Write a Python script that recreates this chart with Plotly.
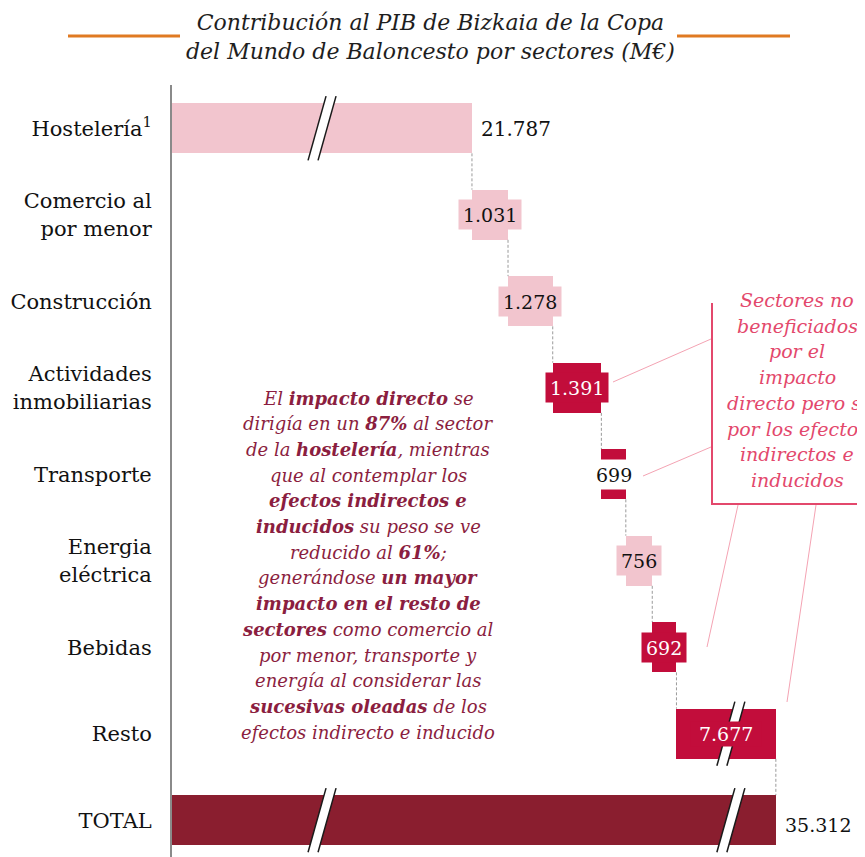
import plotly.graph_objects as go

# ---------------- data ----------------
sectors = ["Hostelería<sup>1</sup>", "Comercio al<br>por menor", "Construcción",
           "Actividades<br>inmobiliarias", "Transporte", "Energia<br>eléctrica",
           "Bebidas", "Resto"]
sector_values = [21787, 1031, 1278, 1391, 699, 756, 692, 7677]
total_label = "TOTAL"
total_value = 35312
# sectors not benefited by the direct impact (only indirect / induced effects)
indirect_only = [False, False, False, True, True, False, True, True]

title_lines = ["Contribución al PIB de Bizkaia de la Copa",
               "del Mundo de Baloncesto por sectores (M€)"]

note_lines = [
    "El <b>impacto directo</b> se",
    "dirigía en un <b>87%</b> al sector",
    "de la <b>hostelería</b>, mientras",
    "que al contemplar los",
    "<b>efectos indirectos e</b>",
    "<b>inducidos</b> su peso se ve",
    "reducido al <b>61%</b>;",
    "generándose <b>un mayor</b>",
    "<b>impacto en el resto de</b>",
    "<b>sectores</b> como comercio al",
    "por menor, transporte y",
    "energía al considerar las",
    "<b>sucesivas oleadas</b> de los",
    "efectos indirecto e inducido",
]

box_lines = ["Sectores no", "beneficiados", "por el", "impacto",
             "directo pero si", "por los efectos", "indirectos e", "inducidos"]

# ---------------- styles ----------------
FONT = "DejaVu Serif"
PINK = "#F2C5CE"
CRIMSON = "#C20D3B"
TOTAL_C = "#8A1E2F"
NOTE_C = "#8B1E40"
BOX_C = "#E3486C"
OFF = 8                      # page body margin of the html page
WIN_W, WIN_H = 865, 857
W, H = WIN_W - OFF, WIN_H - OFF
PL, PT = 172, 85             # plot-area left/top in window pixels
ML, MT, MR, MB = PL - OFF, PT - OFF, 0, 0
plot_w = WIN_W - PL
plot_h = WIN_H - PT
Y_RANGE = [8.425, -0.5]
BAR_W = 0.58

# broken value axis: three segments sharing the same scale
SEGMENTS = [(0, 4290), (17500, 29190), (34025, 37860)]
tot_len = sum(b - a for a, b in SEGMENTS)
domains = []
acc = 0
for a, b in SEGMENTS:
    d0 = acc / tot_len
    acc += b - a
    domains.append([d0, acc / tot_len])

# ---------------- derived ----------------
vals = sector_values + [total_value]
cats = sectors + [total_label]
rows = list(range(len(vals)))
bases = []
run = 0
for v in sector_values:
    bases.append(run)
    run += v
bases.append(0)
colors = [CRIMSON if f else PINK for f in indirect_only] + [TOTAL_C]


def fmt(v):
    return f"{v:,}".replace(",", ".")


def seg_of(v):
    for k, (a, b) in enumerate(SEGMENTS):
        if a <= v <= b:
            return k
    return len(SEGMENTS) - 1


def vx(v):
    k = seg_of(v)
    a, b = SEGMENTS[k]
    d0, d1 = domains[k]
    return PL + plot_w * (d0 + (v - a) / (b - a) * (d1 - d0))


def ry(r):
    return PT + (r - Y_RANGE[1]) / (Y_RANGE[0] - Y_RANGE[1]) * plot_h


def PX(p):
    return (p - PL) / plot_w


def PY(p):
    return (WIN_H - p) / plot_h


axis_names = ["x", "x2", "x3"]

fig = go.Figure()
for k, ax in enumerate(axis_names):
    fig.add_trace(go.Bar(
        x=vals, base=bases, y=rows, orientation="h", width=BAR_W,
        marker=dict(color=colors, line=dict(width=0)),
        xaxis=ax, yaxis="y", showlegend=False, hoverinfo="skip"))

# dashed connectors
conn = {k: ([], []) for k in range(3)}
for i in range(len(sector_values)):
    x_end = bases[i] + vals[i]
    k = seg_of(x_end)
    conn[k][0].extend([x_end, x_end, None])
    conn[k][1].extend([i + BAR_W / 2, i + 1 - BAR_W / 2, None])
for k, ax in enumerate(axis_names):
    if conn[k][0]:
        fig.add_trace(go.Scatter(
            x=conn[k][0], y=conn[k][1], mode="lines", xaxis=ax, yaxis="y",
            line=dict(color="#9a9a9a", width=1, dash="3px,2px"),
            showlegend=False, hoverinfo="skip"))

shapes = []
annotations = []


def add_break(bx, row):
    cy = ry(row)
    half = BAR_W / 2 * (plot_h / (Y_RANGE[0] - Y_RANGE[1])) + 7
    s, g = 9, 5
    pts = [(bx - g - s, cy + half), (bx - g + s, cy - half),
           (bx + g + s, cy - half), (bx + g - s, cy + half)]
    path = "M " + " L ".join(f"{PX(x)},{PY(y)}" for x, y in pts) + " Z"
    shapes.append(dict(type="path", xref="paper", yref="paper", path=path,
                       fillcolor="white", line=dict(width=0), layer="above"))
    for (x0, y0), (x1, y1) in [(pts[0], pts[1]), (pts[3], pts[2])]:
        shapes.append(dict(type="line", xref="paper", yref="paper",
                           x0=PX(x0), y0=PY(y0), x1=PX(x1), y1=PY(y1),
                           line=dict(color="#1a1a1a", width=1.5), layer="above"))


# breaks wherever a bar crosses a segment boundary
for k in range(len(SEGMENTS) - 1):
    bpx = PL + plot_w * domains[k][1]
    cut_lo, cut_hi = SEGMENTS[k][1], SEGMENTS[k + 1][0]
    for r in rows:
        if bases[r] < cut_lo and bases[r] + vals[r] > cut_hi:
            add_break(bpx, r)


LBL = 19


def est_w(s, size):
    return sum(0.318 * size if ch == "." else 0.636 * size for ch in s)


for r in rows:
    txt = fmt(vals[r])
    start, end = bases[r], bases[r] + vals[r]
    if r == 0 or r == len(vals) - 1:
        annotations.append(dict(
            text=txt, xref=axis_names[seg_of(end)], yref="y", x=end, y=r,
            xanchor="left", yanchor="middle", xshift=7, yshift=-1 if r == 0 else -5,
            showarrow=False, font=dict(family=FONT, size=LBL + 1 if r == 0 else LBL,
                                       color="#111")))
        continue
    if seg_of(start) == seg_of(end):
        xref, xx = axis_names[seg_of(start)], (start + end) / 2
    else:
        xref, xx = "paper", PX((vx(start) + vx(end)) / 2)
    bg = colors[r]
    fcol = "white" if colors[r] == CRIMSON else "#111"
    if r == 4:  # bar too thin: label on white
        bg, fcol = "white", "#111"
    resto = r == len(vals) - 2
    annotations.append(dict(
        text=txt, xref=xref, yref="y", x=xx, y=r, xanchor="center",
        yanchor="middle", showarrow=False, bgcolor=bg, borderpad=3,
        width=est_w(txt, LBL) + 2 + (8 if resto else 0), height=18 if resto else 23,
        font=dict(family=FONT, size=LBL, color=fcol)))

# title
annotations.append(dict(
    text="<i>" + "<br>".join(title_lines) + "</i>", xref="paper", yref="paper",
    x=PX(430), y=PY(37), xanchor="center", yanchor="middle", showarrow=False,
    font=dict(family=FONT, size=22, color="#1e1e1e")))
for x0, x1 in [(68, 180), (677, 790)]:
    shapes.append(dict(type="line", xref="paper", yref="paper",
                       x0=PX(x0), x1=PX(x1), y0=PY(36), y1=PY(36),
                       line=dict(color="#E07A22", width=3)))

# note text
for j, line in enumerate(note_lines):
    annotations.append(dict(
        text="<i>" + line + "</i>", xref="paper", yref="paper",
        x=PX(368), y=PY(398 + 25.7 * j), xanchor="center", yanchor="middle",
        showarrow=False, font=dict(family=FONT, size=18, color=NOTE_C)))

# right box text
for j, line in enumerate(box_lines):
    annotations.append(dict(
        text="<i>" + line + "</i>", xref="paper", yref="paper",
        x=PX(797), y=PY(300 + 25.7 * j), xanchor="center", yanchor="middle",
        showarrow=False, font=dict(family=FONT, size=19, color=BOX_C)))

# box frame
shapes.append(dict(type="line", xref="paper", yref="paper", x0=PX(712), x1=PX(712),
                   y0=PY(303), y1=PY(504), line=dict(color=BOX_C, width=2)))
shapes.append(dict(type="line", xref="paper", yref="paper", x0=PX(711), x1=PX(870),
                   y0=PY(504), y1=PY(504), line=dict(color=BOX_C, width=2)))
# callout lines
for (x0, y0), (x1, y1) in [((613, 382), (711, 339)), ((643, 476), (711, 447)),
                           ((738, 505), (707, 647)), ((816, 505), (787, 702))]:
    shapes.append(dict(type="line", xref="paper", yref="paper",
                       x0=PX(x0), y0=PY(y0), x1=PX(x1), y1=PY(y1),
                       line=dict(color="#F4A3B3", width=1)))

xaxis_common = dict(showgrid=False, zeroline=False, showline=False,
                    showticklabels=False, ticks="", anchor="y", fixedrange=True)
layout = dict(
    width=W, height=H, margin=dict(l=ML, r=MR, t=MT, b=MB),
    paper_bgcolor="white", plot_bgcolor="white",
    bargap=0, showlegend=False,
    yaxis=dict(range=Y_RANGE, tickmode="array", tickvals=rows, ticktext=cats,
               showgrid=False, zeroline=False, showline=True,
               linecolor="#8a8a8a", linewidth=2, ticks="", ticklabelstandoff=14,
               tickfont=dict(family=FONT, size=21, color="#111"), anchor="x"),
    shapes=shapes, annotations=annotations,
)
for k, ax in enumerate(axis_names):
    key = "xaxis" if k == 0 else f"xaxis{k + 1}"
    layout[key] = dict(xaxis_common, range=list(SEGMENTS[k]), domain=domains[k])
fig.update_layout(**layout)
fig.write_html("out.html")
